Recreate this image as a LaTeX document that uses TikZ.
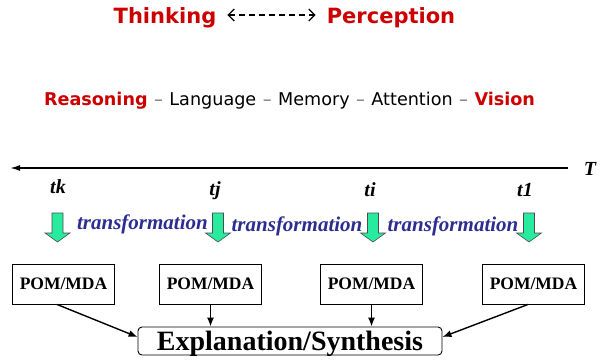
\documentclass[tikz,border=0pt]{standalone}
\usepackage{fontspec}
\setmainfont{Liberation Serif}
\newfontfamily\vsans{DejaVu Sans}
\usetikzlibrary{arrows.meta}
\definecolor{tred}{RGB}{204,0,0}
\definecolor{tblue}{RGB}{45,45,145}
\definecolor{tgreen}{RGB}{40,235,160}
\definecolor{dashgray}{RGB}{110,110,110}
\newcommand\dsep{\hskip 6.5pt{\color{dashgray}–}\hskip 6.5pt}
\begin{document}
\begin{tikzpicture}[x=1pt,y=-1pt,
  title/.style={font=\vsans\bfseries\fontsize{21}{25}\selectfont, text=tred, inner sep=0pt},
  rowtext/.style={font=\vsans\fontsize{17.6}{20}\selectfont, inner sep=0pt},
  tlabel/.style={font=\bfseries\itshape\fontsize{20}{24}\selectfont, inner sep=0pt, anchor=base},
  trans/.style={font=\bfseries\itshape\fontsize{21}{25}\selectfont, text=tblue, inner sep=0pt, anchor=base},
  pombox/.style={draw, line width=0.9pt, minimum width=102pt, minimum height=40pt, inner sep=0pt, font=\bfseries\fontsize{17.5}{20}\selectfont},
  expbox/.style={draw, rounded corners=4pt, line width=0.9pt, minimum width=304pt, minimum height=28pt, inner sep=0pt, text depth=0pt, font=\bfseries\fontsize{28}{30}\selectfont},
  conn/.style={line width=1.4pt, -{Latex[length=9pt,width=7pt]}},
  garrowstyle/.style={fill=tgreen, draw=black!70, line width=0.6pt},
  garrow/.pic={\draw[garrowstyle] (-5.5,0) -- (5.5,0) -- (5.5,20) -- (12.5,20) -- (0,29) -- (-12.5,20) -- (-5.5,20) -- cycle;}
]
\useasboundingbox (0,0) rectangle (602,362);

% title
\node[title] (think) at (165,17.5) {Thinking};
\node[title] (perc) at (391,17.5) {Perception};
\draw[line width=1.2pt, dash pattern=on 6pt off 4pt,
  {Straight Barb[length=6pt,width=12pt]}-{Straight Barb[length=6pt,width=12pt]}]
  ([xshift=11pt,yshift=2.5pt]think.east) -- ([xshift=-11pt,yshift=2.5pt]perc.west);

% second row
\node[rowtext] (row) at (289.5,100.5) {{\bfseries\color{tred}Reasoning}\dsep Language\dsep Memory\dsep Attention\dsep{\bfseries\color{tred}Vision}};

% time axis
\coordinate (axR) at (568,168);
\coordinate (axL) at (10,168);
\draw[line width=1.6pt, -{Latex[length=10pt,width=6pt]}] (axR) -- (axL);
\node[tlabel] (T) at (590,175) {T};

\node[tlabel] (tk) at (58,193) {tk};
\node[tlabel] (tj) at (215,195) {tj};
\node[tlabel] (ti) at (370,196) {ti};
\node[tlabel] (t1) at (525,196) {t1};

% green arrows
\pic at (57.5,213) {garrow};
\pic at (218,213) {garrow};
\pic at (373,213) {garrow};
\pic at (529,213) {garrow};

% transformation labels
\node[trans] (tr1) at (142.5,229) {transformation};
\node[trans] (tr2) at (297,231) {transformation};
\node[trans] (tr3) at (453,231) {transformation};

% boxes
\node[pombox] (b1) at (63.5,284) {POM/MDA};
\node[pombox] (b2) at (210.5,284) {POM/MDA};
\node[pombox] (b3) at (371.5,284) {POM/MDA};
\node[pombox] (b4) at (533.5,284) {POM/MDA};
\node[expbox] (ex) at (290,341) {Explanation/Synthesis};

\draw[conn] ([xshift=-6.5pt]b1.south) -- ([yshift=4pt]ex.west);
\draw[conn] (b2.south) -- (b2.south |- ex.north);
\draw[conn] (b3.south) -- (b3.south |- ex.north);
\draw[conn] ([xshift=-5.5pt]b4.south) -- ([yshift=4pt]ex.east);
\end{tikzpicture}
\end{document}
